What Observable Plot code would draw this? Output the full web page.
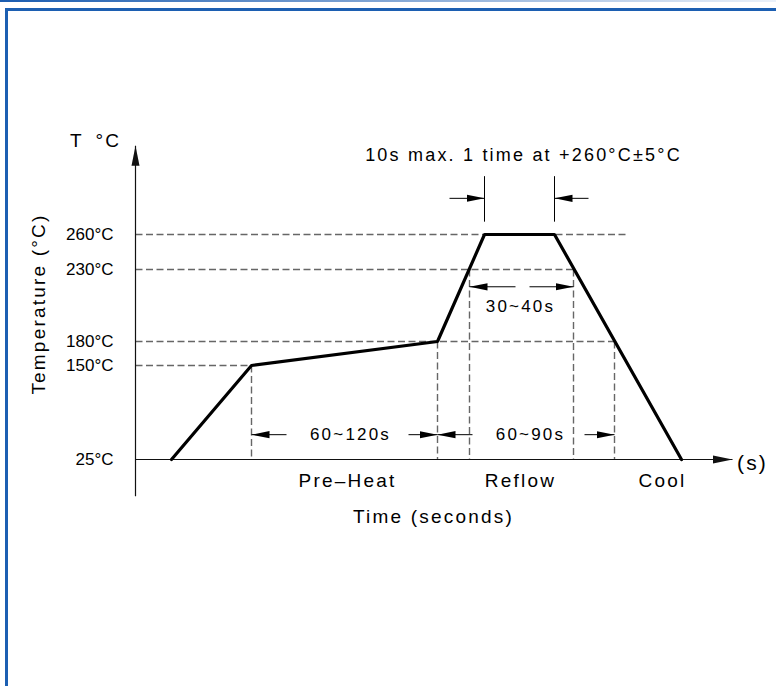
<!DOCTYPE html>
<html>
<head>
<meta charset="utf-8">
<script src="https://cdn.jsdelivr.net/npm/d3@7"></script>
<script src="https://cdn.jsdelivr.net/npm/@observablehq/plot@0.6"></script>
<style>
html, body { margin: 0; padding: 0; background: #fff; }
#wrap { position: relative; width: 776px; height: 686px; overflow: hidden; background: #fff; }
#topstrip { position: absolute; left: 0; top: 0; width: 776px; height: 2px; background: linear-gradient(to right, #1a5cb0, #eaf1fa); }
#frame { position: absolute; left: 5px; top: 8px; width: 800px; height: 700px; border-top: 3px solid #1c5fb2; border-left: 3px solid #1c5fb2; }
#chart { position: absolute; left: 0; top: 0; }
#chart svg text { letter-spacing: 2.2px; }
#chart svg g[aria-label="y-axis tick label"] text { letter-spacing: 0; }
</style>
</head>
<body>
<div id="wrap">
  <div id="topstrip"></div>
  <div id="frame"></div>
  <div id="chart"></div>
</div>
<script>
// ---- data (schematic reflow profile; time in s on a schematic axis, temperature in °C) ----
const tempTicks = [25, 150, 180, 230, 260];

const profileTime = [18, 58, 151, 174.5, 209.5, 273];
const profileTemp = [25, 150, 180, 260, 260, 25];

// horizontal dashed guides (from the T axis to the profile)
const hGuideTemp = [260, 230, 180, 150];
const hGuideEnd = [245, 219, 239.5, 58];

// vertical dashed guides (from the profile down to 25 °C)
const vGuideTime = [58, 151, 167, 219, 239.5];
const vGuideTop = [150, 180, 230, 230, 180];

// peak-time markers
const peakTime = [174.5, 209.5];
const peakMarkLow = 271;
const peakMarkHigh = 310;

// dimension arrows
const arrowTail = [75.5, 136.5, 168.5, 224.5, 190, 197, 157, 226.5];
const arrowTip  = [58, 151, 151, 239.5, 167, 219, 174.5, 209.5];
const arrowTemp = [58, 58, 58, 58, 218, 218, 291, 291];

// duration labels
const spanLabels = ["60~120s", "60~90s", "30~40s"];
const spanTime = [107.5, 197.5, 192.5];
const spanTemp = [58, 58, 204];

// phase labels
const phaseLabels = ["Pre–Heat", "Reflow", "Cool"];
const phaseTime = [106, 192.5, 263.5];

const peakNote = "10s max. 1 time at +260°C±5°C";
const xAxisTitle = "Time (seconds)";
const yAxisTitle = "Temperature (°C)";
const yAxisUnit = "T\u2002°C";
const xAxisUnit = "(s)";

// ---- filled arrowhead markers ----
function filledHead(len, half) {
  return (color) => {
    const m = d3.create("svg:marker")
      .attr("viewBox", `${-len} ${-half - 1} ${len + 1} ${2 * half + 2}`)
      .attr("markerWidth", len + 1)
      .attr("markerHeight", 2 * half + 2)
      .attr("markerUnits", "userSpaceOnUse")
      .attr("refX", 0)
      .attr("refY", 0)
      .attr("orient", "auto");
    m.append("path").attr("d", `M0,0L${-len},${-half}L${-len},${half}Z`).attr("fill", color).attr("stroke", "none");
    return m.node();
  };
}
const headSmall = filledHead(18, 3.6);
const headAxis = filledHead(20, 4);

const dash = {stroke: "#666", strokeWidth: 1.4, strokeDasharray: "7,3.5"};
const font = "Liberation Sans, Arial, sans-serif";

const chart = Plot.plot({
  width: 776,
  height: 686,
  marginLeft: 135,
  marginRight: 41,
  marginTop: 0,
  marginBottom: 0,
  style: {fontFamily: font, fontSize: "18px", background: "transparent", overflow: "visible"},
  x: {type: "linear", domain: [0, 300], axis: null},
  y: {type: "linear", domain: tempTicks, range: [459, 365, 341, 269, 234], axis: null},
  marks: [
    // dashed guides
    Plot.link(hGuideTemp, {x1: 0, x2: hGuideEnd, y1: hGuideTemp, y2: hGuideTemp, ...dash}),
    Plot.link(vGuideTime, {x1: vGuideTime, x2: vGuideTime, y1: vGuideTop, y2: 25, ...dash}),
    // peak markers
    Plot.link(peakTime, {x1: peakTime, x2: peakTime, y1: peakMarkLow, y2: peakMarkHigh, stroke: "#000", strokeWidth: 1}),
    // axes
    Plot.link([0], {x1: 0, x2: 298.5, y1: 25, y2: 25, stroke: "#111", strokeWidth: 1.2, markerEnd: headAxis}),
    Plot.link([0], {x1: 0, x2: 0, y1: -24, y2: 336, stroke: "#111", strokeWidth: 1.2, markerEnd: headAxis}),
    Plot.axisY({ticks: tempTicks, tickFormat: d => `${d}°C`, tickSize: 0, tickPadding: 22, label: null, fontSize: 17, fill: "#000"}),
    // dimension arrows
    Plot.link(arrowTail, {x1: arrowTail, x2: arrowTip, y1: arrowTemp, y2: arrowTemp, stroke: "#000", strokeWidth: 1, markerEnd: headSmall}),
    // profile
    Plot.line(profileTime, {x: profileTime, y: profileTemp, stroke: "#000", strokeWidth: 3.2, strokeLinejoin: "miter", curve: "linear"}),
    // texts
    Plot.text(spanLabels, {x: spanTime, y: spanTemp, text: d => d, fontSize: 17, fill: "#000"}),
    Plot.text(phaseLabels, {x: phaseTime, y: -4, text: d => d, fontSize: 19, fill: "#000"}),
    Plot.text([xAxisTitle], {x: 149, y: -51, text: d => d, fontSize: 19, fill: "#000"}),
    Plot.text([yAxisTitle], {x: -48.5, y: 206, text: d => d, rotate: -90, fontSize: 19, fill: "#000"}),
    Plot.text([peakNote], {x: 194, y: 328, text: d => d, fontSize: 18, fill: "#000", style: "letter-spacing:2px"}),
    Plot.text([yAxisUnit], {x: -20, y: 340, text: d => d, fontSize: 19, fill: "#000"}),
    Plot.text([xAxisUnit], {x: 308.5, y: 20, text: d => d, fontSize: 21, fill: "#000"})
  ]
});
document.getElementById("chart").appendChild(chart);
</script>
</body>
</html>
